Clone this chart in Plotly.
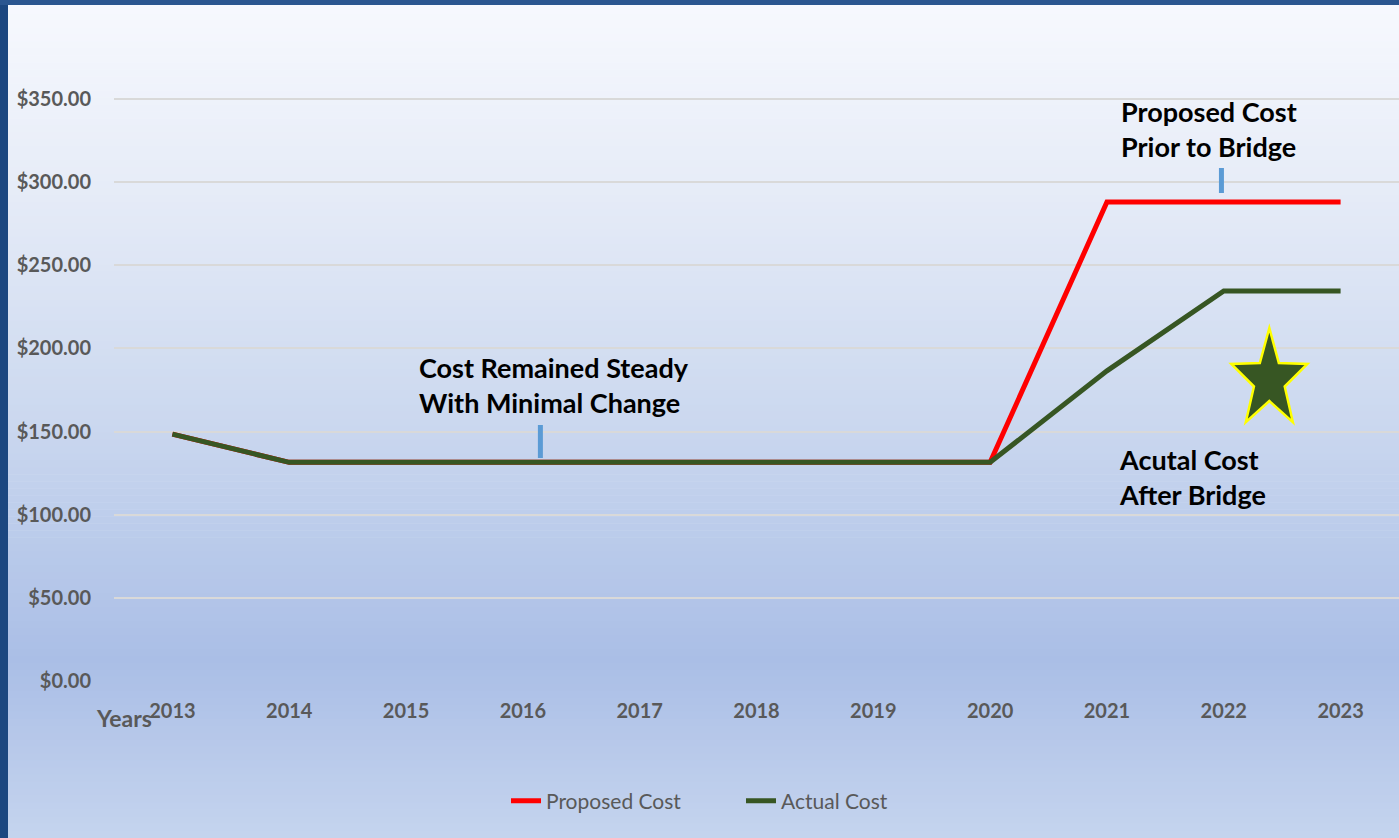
import math
import plotly.graph_objects as go

years = [2013, 2014, 2015, 2016, 2017, 2018, 2019, 2020, 2021, 2022, 2023]
proposed_cost = [148.5, 131.5, 131.5, 131.5, 131.5, 131.5, 131.5, 131.5, 288, 288, 288]
actual_cost = [148.5, 131.5, 131.5, 131.5, 131.5, 131.5, 131.5, 131.5, 186.5, 234.5, 234.5]
y_ticks = [0, 50, 100, 150, 200, 250, 300, 350]
y_tick_labels = ["$%.2f" % v for v in y_ticks]

FONT = "Lato"
GREY = "#595959"
PX = 582 / 350.0          # pixels per unit on y
Y0 = 681                  # pixel row of y = 0
TOP = 96
YMAX = (Y0 - TOP) / PX
PLOT_H = Y0 - TOP


def py(p):
    """pixel row -> data y"""
    return (Y0 - p) / PX


def pp(p):
    """pixel row -> paper y"""
    return (Y0 - p) / PLOT_H


def px(p):
    """pixel column -> paper x"""
    return (p - 114) / 1285


fig = go.Figure()

fig.add_trace(go.Scatter(x=years, y=proposed_cost, mode="lines", name="Proposed Cost",
                         line=dict(color="#FF0000", width=5)))
fig.add_trace(go.Scatter(x=years, y=actual_cost, mode="lines", name="Actual Cost",
                         line=dict(color="#375623", width=5)))

# background gradient
shapes = []
stops = [(0, (247, 249, 254)), (200, (229, 235, 247)), (420, (203, 216, 239)),
         (660, (170, 190, 230)), (838, (197, 212, 238))]
H = 838
n = 120
for i in range(n):
    y0 = i * H / n
    y1 = (i + 1) * H / n
    ym = (y0 + y1) / 2
    for j in range(len(stops) - 1):
        if stops[j][0] <= ym <= stops[j + 1][0]:
            t = (ym - stops[j][0]) / (stops[j + 1][0] - stops[j][0])
            c = [round(a + (b - a) * t) for a, b in zip(stops[j][1], stops[j + 1][1])]
            break
    shapes.append(dict(type="rect", xref="paper", yref="paper", layer="below",
                       x0=px(0), x1=1.0, y0=pp(y1), y1=pp(y0) + 0.001,
                       fillcolor="rgb(%d,%d,%d)" % tuple(c), line=dict(width=0)))
# dark frame
shapes.append(dict(type="rect", xref="paper", yref="paper", layer="below",
                   x0=px(0), x1=px(8), y0=pp(838), y1=pp(0),
                   fillcolor="#1C4780", line=dict(width=0)))
shapes.append(dict(type="rect", xref="paper", yref="paper", layer="below",
                   x0=px(0), x1=1.0, y0=pp(5), y1=pp(0),
                   fillcolor="#2B5690", line=dict(width=0)))
# blue callout ticks
shapes.append(dict(type="line", xref="x", yref="y", x0=2016.15, x1=2016.15, y0=py(458), y1=py(425),
                   line=dict(color="#5B9BD5", width=5)))
shapes.append(dict(type="line", xref="x", yref="paper", x0=2021.98, x1=2021.98, y0=pp(193), y1=pp(168),
                   line=dict(color="#5B9BD5", width=5)))

# decorative star (pixel-sized path anchored in data space)
R, r, sx = 52, 21, 0.77
pts = []
for k in range(10):
    ang = math.pi / 2 + k * math.pi / 5
    rad = R if k % 2 == 0 else r
    pts.append((sx * rad * math.cos(ang), rad * math.sin(ang)))
path = "M " + " L ".join("%.2f,%.2f" % p for p in pts) + " Z"
shapes.append(dict(type="path", xref="x", yref="y", xsizemode="pixel", ysizemode="pixel",
                   xanchor=2022.39, yanchor=py(380), path=path,
                   fillcolor="#375623", line=dict(color="#FFFF00", width=2.5)))

bold_black = dict(size=27, color="black", family=FONT, weight="bold")
annots = [
    dict(x=px(417), y=pp(349), text="Cost Remained Steady<br>With Minimal Change"),
    dict(x=px(1119), y=pp(93), text="Proposed Cost<br>Prior to Bridge"),
    dict(x=px(1117), y=pp(441), text="Acutal Cost<br>After Bridge"),
]
for a in annots:
    a.update(xref="paper", yref="paper", xanchor="left", yanchor="top", align="left",
             showarrow=False, font=bold_black)
annots.append(dict(x=px(124), y=pp(718), xref="paper", yref="paper", text="Years",
                   xanchor="center", yanchor="middle", showarrow=False,
                   font=dict(size=23, color=GREY, family=FONT, weight="bold")))

fig.update_layout(
    width=1399, height=838,
    margin=dict(l=114, r=0, t=TOP, b=838 - Y0),
    paper_bgcolor="rgba(0,0,0,0)", plot_bgcolor="rgba(0,0,0,0)",
    font=dict(family=FONT, color=GREY),
    shapes=shapes, annotations=annots,
    showlegend=True,
    legend=dict(orientation="h", x=px(506), xanchor="left", y=pp(801), yanchor="middle",
                entrywidth=190, entrywidthmode="pixels",
                font=dict(size=21, color=GREY, family=FONT), bgcolor="rgba(0,0,0,0)"),
    xaxis=dict(range=[2012.5, 2023.5], tickmode="array", tickvals=years, ticktext=[str(y) for y in years],
               showgrid=False, zeroline=False, showline=False, ticks="",
               tickfont=dict(size=20, color=GREY, family=FONT, weight="bold"), ticklabelstandoff=16),
    yaxis=dict(range=[0, YMAX], tickmode="array", tickvals=y_ticks, ticktext=y_tick_labels,
               showgrid=True, gridcolor="#D9D9D9", gridwidth=2, zeroline=False, showline=False, ticks="",
               tickfont=dict(size=20, color=GREY, family=FONT, weight="bold"), ticklabelstandoff=22),
)

fig.write_html("out.html", config={"displayModeBar": False},
               post_script="document.body.style.margin='0';")
